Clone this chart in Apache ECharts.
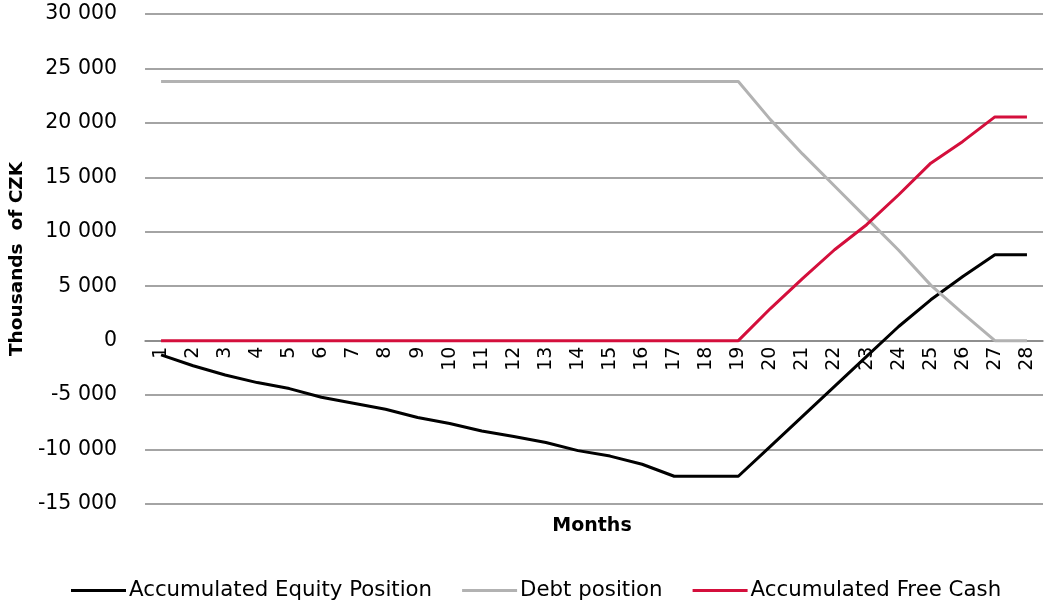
<!DOCTYPE html>
<html>
<head>
<meta charset="utf-8">
<script src="https://cdn.jsdelivr.net/npm/echarts@6/dist/echarts.min.js"></script>
<style>
  html, body { margin: 0; padding: 0; background: #fff; }
  #chart { width: 1044px; height: 604px; }
</style>
</head>
<body>
<div id="chart"></div>
<script>
// Months 1..28
const months = Array.from({ length: 28 }, (_, i) => String(i + 1));

// Thousands of CZK
const equityPosition = [
  -1300, -2300, -3150, -3850, -4400, -5200, -5750, -6300, -7050, -7600,
  -8300, -8800, -9350, -10100, -10600, -11350, -12450, -12450, -12450, -9700,
  -6950, -4200, -1450, 1300, 3750, 5900, 7900, 7900
];
const debtPosition = [
  23800, 23800, 23800, 23800, 23800, 23800, 23800, 23800, 23800, 23800,
  23800, 23800, 23800, 23800, 23800, 23800, 23800, 23800, 23800, 20300,
  17150, 14200, 11250, 8300, 5100, 2500, 0, 0
];
const freeCash = [
  0, 0, 0, 0, 0, 0, 0, 0, 0, 0,
  0, 0, 0, 0, 0, 0, 0, 0, 0, 2950,
  5700, 8350, 10650, 13400, 16300, 18300, 20550, 20550
];

const yTicks = { min: -15000, max: 30000, step: 5000 };

const font = '"DejaVu Sans", sans-serif';
const fmt = v => {
  const s = Math.abs(v).toString().replace(/\B(?=(\d{3})+(?!\d))/g, ' ');
  return (v < 0 ? '-' : '') + s;
};

const gridTop = 14, gridBottom = 100, chartH = 604;
const plotH = chartH - gridTop - gridBottom;
// shift the category axis up so it sits on the zero line
const zeroShift = plotH * (0 - yTicks.min) / (yTicks.max - yTicks.min);

const chart = echarts.init(document.getElementById('chart'), null, { renderer: 'canvas' });

const lineSeries = (name, data, color) => ({
  name, type: 'line', data,
  symbol: 'none', smooth: false,
  lineStyle: { color, width: 3 },
  itemStyle: { color },
  emphasis: { disabled: true },
  animation: false
});

chart.setOption({
  animation: false,
  grid: { left: 142, right: 1, top: gridTop, bottom: gridBottom, containLabel: false },
  xAxis: {
    type: 'category',
    data: months,
    boundaryGap: true,
    offset: -zeroShift,
    axisLine: { onZero: false, lineStyle: { color: '#868686', width: 1.5 } },
    axisTick: { show: false },
    axisLabel: {
      rotate: 90, interval: 0, margin: 6,
      color: '#000', fontFamily: font, fontSize: 19
    },
    splitLine: { show: false }
  },
  yAxis: {
    type: 'value',
    min: yTicks.min, max: yTicks.max, interval: yTicks.step,
    name: 'Thousands  of CZK',
    nameLocation: 'middle',
    nameGap: 118,
    nameRotate: 90,
    nameTextStyle: { color: '#000', fontFamily: font, fontSize: 18.5, fontWeight: 'bold' },
    axisLine: { show: false },
    axisTick: { show: false },
    axisLabel: {
      color: '#000', fontFamily: font, fontSize: 20.5, margin: 28,
      formatter: fmt
    },
    splitLine: { lineStyle: { color: '#868686', width: 1.5 } }
  },
  legend: {
    top: 575,
    left: 66,
    itemWidth: 55,
    itemHeight: 3,
    itemGap: 30,
    icon: 'rect',
    textStyle: { color: '#000', fontFamily: font, fontSize: 21.3, padding: [0, 0, 0, -2] },
    data: ['Accumulated Equity Position', 'Debt position', 'Accumulated Free Cash']
  },
  graphic: [{
    type: 'text',
    x: 592,
    y: 526,
    style: {
      text: 'Months', fill: '#000', font: 'bold 19px ' + font,
      textAlign: 'center', textVerticalAlign: 'middle'
    }
  }],
  series: [
    lineSeries('Accumulated Equity Position', equityPosition, '#000000'),
    lineSeries('Debt position', debtPosition, '#b2b2b2'),
    lineSeries('Accumulated Free Cash', freeCash, '#d40f3c')
  ]
});
</script>
</body>
</html>
